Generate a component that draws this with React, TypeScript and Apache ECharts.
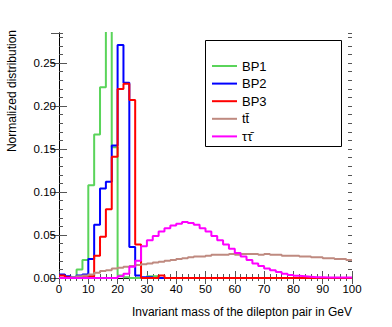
import React, { useEffect, useRef } from "react";
import * as echarts from "echarts";

const binWidth = 2;
const binLow: number[] = Array.from({ length: 50 }, (_, i) => i * binWidth);

const seriesNames = ["BP1", "BP2", "BP3", "tt\u0304", "\u03c4\u03c4\u0304"];
const seriesColors = ["#5ad45a", "#0000ff", "#ff0000", "#bf8a80", "#ff00ff"];

const bp1 = [
  0, 0, 0, 0.010, 0.021, 0.108, 0.167, 0.222, 0.34, 0.152,
  0.003, 0.001, 0, 0, 0, 0.002, 0.002, 0, 0, 0,
  0, 0, 0, 0, 0, 0, 0, 0, 0, 0,
  0, 0, 0, 0, 0, 0, 0, 0, 0, 0,
  0, 0, 0, 0, 0, 0, 0, 0, 0, 0,
];
const bp2 = [
  0.004, 0.002, 0.001, 0.003, 0.004, 0.022, 0.062, 0.104, 0.112, 0.154,
  0.271, 0.227, 0.036, 0.003, 0.001, 0.001, 0, 0, 0, 0,
  0, 0, 0, 0, 0, 0, 0, 0, 0, 0,
  0, 0, 0, 0, 0, 0, 0, 0, 0, 0,
  0, 0, 0, 0, 0, 0, 0, 0, 0, 0,
];
const bp3 = [
  0.003, 0.001, 0, 0.001, 0.001, 0.002, 0.026, 0.048, 0.080, 0.141,
  0.220, 0.226, 0.207, 0.039, 0, 0, 0, 0.003, 0, 0,
  0, 0, 0, 0, 0, 0, 0, 0, 0, 0,
  0, 0, 0, 0, 0, 0, 0, 0, 0, 0,
  0, 0, 0, 0, 0, 0, 0, 0, 0, 0,
];
const ttbar = [
  0, 0, 0.001, 0.002, 0.003, 0.004, 0.006, 0.008, 0.009, 0.011,
  0.012, 0.013, 0.014, 0.015, 0.016, 0.017, 0.018, 0.019, 0.020, 0.021,
  0.022, 0.023, 0.024, 0.025, 0.025, 0.026, 0.027, 0.027, 0.027, 0.028,
  0.027, 0.028, 0.028, 0.028, 0.027, 0.028, 0.027, 0.027, 0.026, 0.026,
  0.026, 0.025, 0.025, 0.024, 0.024, 0.023, 0.023, 0.022, 0.022, 0.021,
];
const tautau = [
  0, 0, 0, 0, 0, 0, 0, 0, 0, 0,
  0.002, 0.005, 0.013, 0.020, 0.037, 0.044, 0.049, 0.054, 0.058, 0.061,
  0.063, 0.065, 0.064, 0.062, 0.058, 0.054, 0.049, 0.044, 0.039, 0.034,
  0.029, 0.025, 0.021, 0.017, 0.014, 0.011, 0.009, 0.007, 0.005, 0.0035,
  0.0025, 0.002, 0.0015, 0.001, 0.001, 0.0005, 0.0005, 0.0005, 0.0005, 0.0005,
];
const allSeries = [bp1, bp2, bp3, ttbar, tautau];

const xMin = 0;
const xMax = 100;
const yMin = 0;
const yMax = 0.285;

const FONT = "'Liberation Sans', Arial, Helvetica, sans-serif";

function stepData(vals: number[]): number[][] {
  const pts = vals.map((v, i) => [binLow[i], v]);
  pts.push([binLow[binLow.length - 1] + binWidth, vals[vals.length - 1]]);
  return pts;
}

export default function App() {
  const ref = useRef<HTMLDivElement>(null);
  useEffect(() => {
    if (!ref.current) return;
    const chart = echarts.init(ref.current, undefined, { renderer: "svg" });
    const axisLine = { show: true, lineStyle: { color: "#000", width: 1 } };
    const tickColor = "#555";
    const xBase = (pos: "top" | "bottom", labels: boolean) => ({
      type: "value",
      position: pos,
      min: xMin,
      max: xMax,
      interval: 10,
      axisLine,
      axisTick: { show: true, inside: true, length: pos === "bottom" ? 7 : 6, lineStyle: { color: tickColor } },
      minorTick: { show: true, splitNumber: 5, length: pos === "bottom" ? 4 : 3, lineStyle: { color: tickColor } },
      axisLabel: {
        show: labels,
        fontFamily: FONT,
        fontSize: 11.5,
        color: "#000",
        margin: 5,
      },
      splitLine: { show: false },
      minorSplitLine: { show: false },
    });
    const yMajor = (pos: "left" | "right", labels: boolean) => ({
      type: "value",
      position: pos,
      min: yMin,
      max: yMax,
      interval: 0.05,
      axisLine,
      axisTick: { show: true, inside: true, length: 8, lineStyle: { color: tickColor } },
      axisLabel: {
        show: labels,
        fontFamily: FONT,
        fontSize: 11.5,
        color: "#000",
        margin: 3,
        showMaxLabel: false,
        formatter: (v: number) => v.toFixed(2),
      },
      splitLine: { show: false },
    });
    const yMinor = (pos: "left" | "right") => ({
      type: "value",
      position: pos,
      min: yMin,
      max: yMax,
      interval: 0.01,
      axisLine: { show: false },
      axisTick: { show: true, inside: true, length: 4, lineStyle: { color: tickColor } },
      axisLabel: { show: false },
      splitLine: { show: false },
    });

    chart.setOption({
      animation: false,
      backgroundColor: "#fff",
      grid: { left: 59, top: 33, width: 293, height: 245, containLabel: false },
      xAxis: [xBase("bottom", true), xBase("top", false)],
      yAxis: [yMajor("left", true), yMajor("right", false), yMinor("left"), yMinor("right")],
      legend: {
        orient: "vertical",
        left: 207,
        top: 54,
        itemWidth: 25,
        itemHeight: 2,
        itemGap: 3.6,
        icon: "rect",
        data: seriesNames,
        textStyle: { fontFamily: FONT, fontSize: 13, color: "#000", lineHeight: 14 },
        z: 5,
      },
      graphic: [
        {
          type: "rect",
          z: 4,
          shape: { x: 205.5, y: 40.5, width: 136, height: 106 },
          style: { fill: "#fff", stroke: "#000", lineWidth: 1 },
        },
        {
          type: "text",
          x: 352,
          y: 312,
          style: {
            text: "Invariant mass of the dilepton pair in GeV",
            fontFamily: FONT,
            fontSize: 12,
            fill: "#000",
            textAlign: "right",
            textVerticalAlign: "middle",
          },
        },
        {
          type: "text",
          x: 12,
          y: 30,
          rotation: Math.PI / 2,
          style: {
            text: "Normalized distribution",
            fontFamily: FONT,
            fontSize: 12,
            fill: "#000",
            textAlign: "right",
            textVerticalAlign: "middle",
          },
        },
      ],
      series: allSeries.map((vals, i) => ({
        name: seriesNames[i],
        type: "line",
        step: "end",
        xAxisIndex: 0,
        yAxisIndex: 0,
        symbol: "none",
        clip: true,
        z: 2 + i * 0.1,
        lineStyle: { color: seriesColors[i], width: 2 },
        itemStyle: { color: seriesColors[i] },
        data: stepData(vals),
      })),
    });
    return () => chart.dispose();
  }, []);
  return (
    <div
      ref={ref}
      style={{ position: "fixed", left: 0, top: 0, width: 392, height: 327 }}
    />
  );
}
